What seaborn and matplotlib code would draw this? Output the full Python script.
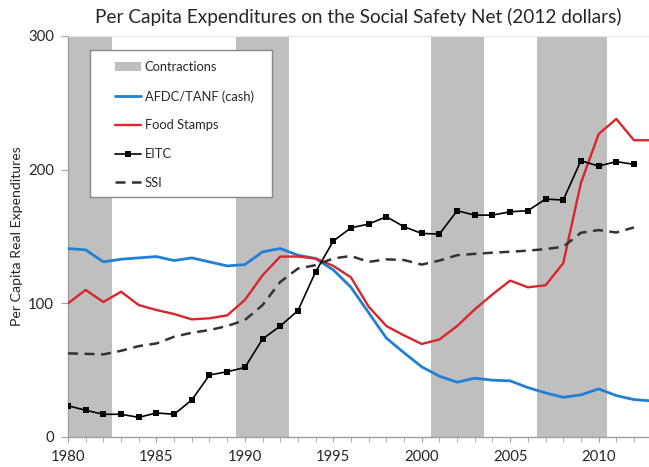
import numpy as np
import pandas as pd
import matplotlib
matplotlib.use("Agg")
import matplotlib.pyplot as plt
from matplotlib.patches import Patch, Rectangle
from matplotlib.lines import Line2D
import seaborn as sns

# ----------------------------------------------------
# Data
# ----------------------------------------------------
years = list(range(1980, 2014))

afdc = [141, 140, 131, 133, 134, 135, 132, 134, 131, 128, 129, 138.5, 141, 136,
        133.5, 125, 112, 93, 74, 63, 52.5, 45.5, 41, 44, 42.5, 42, 37, 33, 29.7,
        31.5, 36, 31, 28, 27]

food_stamps = [100, 110, 101, 108.7, 98.7, 95, 92, 88, 88.8, 91, 102.5, 121, 135,
               135, 133.6, 128, 119.4, 97.5, 83, 76, 69.6, 73, 83, 95.5, 106.7, 117,
               112, 113.5, 130, 190, 226.6, 238, 222, 222]

eitc_years = list(range(1980, 2013))
eitc = [23.4, 20, 17, 17, 14.7, 18, 17, 27.7, 46.4, 48.8, 52, 73.3, 83, 94.5,
        123.6, 146.6, 156.5, 159.3, 164.8, 157.3, 152.3, 151.8, 169.3, 166, 166,
        168.5, 169.3, 178, 177.3, 206.7, 202.7, 206, 204]

ssi_years = list(range(1980, 2013))
ssi = [62.6, 62.2, 61.8, 64.5, 68, 70, 75, 78, 80, 83, 87.5, 98.7, 116, 126,
       128.6, 133.6, 135.4, 131, 132.9, 132.4, 129, 132, 136, 137, 137.9, 138.6,
       139.4, 140.6, 142.3, 152.8, 154.8, 153, 156.8]

# recession bands (start, end)
contractions = [(1979.5, 1982.5), (1989.5, 1992.5), (2000.5, 2003.5), (2006.5, 2010.5)]

labels = ["Contractions", "AFDC/TANF (cash)", "Food Stamps", "EITC", "SSI"]

# ----------------------------------------------------
# Plot
# ----------------------------------------------------
sns.set_style("white")
plt.rcParams['font.family'] = ['Lato', 'DejaVu Sans']

blue = "#2180d3"
red = "#d8262c"
grey = "#bfbfbf"
txt = "#262626"
dash = (0, (4, 2.6))

fig = plt.figure(figsize=(6.49, 4.67), dpi=100)
ax = fig.add_axes([68 / 649, 30 / 467, (649 - 68) / 649, (437 - 36) / 467])

for s, e in contractions:
    ax.axvspan(s, e, color=grey, lw=0, zorder=0)

sns.lineplot(x=years, y=afdc, ax=ax, color=blue, lw=2, zorder=3)
sns.lineplot(x=years, y=food_stamps, ax=ax, color=red, lw=1.7, zorder=3)
sns.lineplot(x=ssi_years, y=ssi, ax=ax, color="#333333", lw=1.8, zorder=3,
             linestyle=dash)
sns.lineplot(x=eitc_years, y=eitc, ax=ax, color="black", lw=1.2, zorder=4,
             marker="s", markersize=5, markeredgewidth=0)

ax.set_xlim(1980, 2012.85)
ax.set_ylim(0, 300)
ax.set_xticks(range(1980, 2011, 5))
ax.set_xticks(range(1980, 2013), minor=True)
ax.set_yticks([0, 100, 200, 300])
ax.tick_params(axis="x", which="both", direction="out", length=3.6, color="#a0a0a0",
               bottom=True, labelsize=10.7, pad=6, labelcolor=txt)
ax.tick_params(axis="y", direction="out", length=5, color="#a0a0a0", left=True,
               labelsize=10.7, pad=5, labelcolor=txt)

for side in ["left", "bottom"]:
    ax.spines[side].set_color("#a0a0a0")
    ax.spines[side].set_linewidth(1)
ax.spines["top"].set_color("#e6e6e6")
ax.spines["right"].set_visible(False)

ax.set_ylabel("Per Capita Real Expenditures", fontsize=10.2, color=txt)
ax.yaxis.set_label_coords(-(68 - 23) / 581, 0.5)
ax.set_title("Per Capita Expenditures on the Social Safety Net (2012 dollars)",
             fontsize=13.7, color=txt, pad=9)

# legend box drawn by hand so padding matches
ax.add_patch(Rectangle((0.0379, 0.5985), 0.3132, 0.3665, transform=ax.transAxes,
                       facecolor="white", edgecolor="#888888", lw=1, zorder=6))

handles = [
    Patch(facecolor=grey, edgecolor="none"),
    Line2D([], [], color=blue, lw=2),
    Line2D([], [], color=red, lw=1.7),
    Line2D([], [], color="black", lw=1.2, marker="s", markersize=5, markeredgewidth=0),
    Line2D([], [], color="#333333", lw=1.8, linestyle=dash),
]
leg = ax.legend(handles, labels, loc="upper left", bbox_to_anchor=(0.081, 0.937),
                fontsize=9.3, frameon=False, handlelength=2.0, handleheight=0.75,
                labelspacing=1.3, borderpad=0, handletextpad=0.3, borderaxespad=0)
leg.set_zorder(7)
for t in leg.get_texts():
    t.set_color(txt)

fig.savefig("out.png", dpi=100)
